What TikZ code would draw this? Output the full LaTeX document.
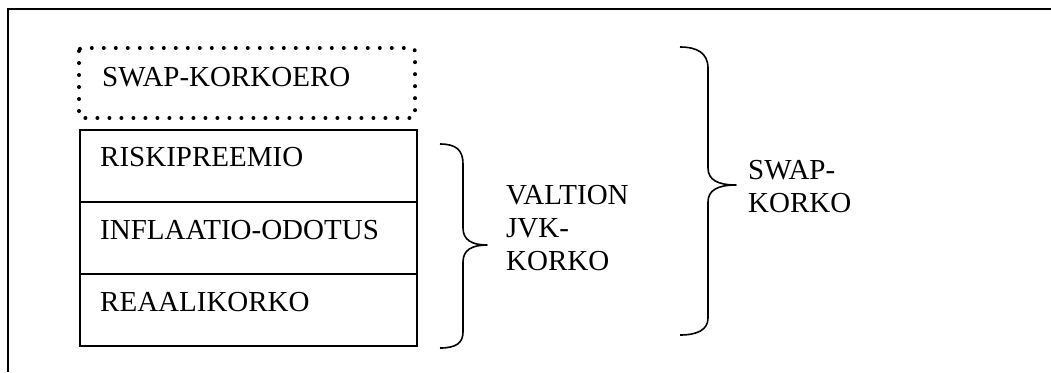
\documentclass[tikz,border=0pt]{standalone}
\usepackage{fontspec}
\setmainfont{Liberation Serif}
\begin{document}
\begin{tikzpicture}[x=1pt,y=-1pt,
  lbl/.style={inner sep=0pt,anchor=base west,font=\fontsize{29}{33}\selectfont},
  multi/.style={inner sep=0pt,anchor=west,align=left,font=\fontsize{29}{33}\selectfont},
  cell/.style={draw,line width=2pt,minimum width=337pt,minimum height=72pt,inner sep=0pt,anchor=north west},
  dotbox/.style={draw,line width=4pt,dash pattern=on 0pt off 12pt,line cap=round,rounded corners=3pt},
  brace/.style={line width=1.6pt,line join=round}]
\useasboundingbox (0,0) rectangle (1051,372);
% frame
\draw[line width=2pt] (8,372) -- (8,9) -- (1051,9);
% dotted box
\draw[dotbox] (79,48) rectangle (415,118);
\node[lbl] (swapero) at (102,86) {SWAP-KORKOERO};
% cells
\node[cell] (c1) at (79,129) {};
\node[cell] (c2) at (79,201) {};
\node[cell] (c3) at (79,273) {};
\node[lbl] (t1) at (100,166) {RISKIPREEMIO};
\node[lbl] (t2) at (100,239) {INFLAATIO-ODOTUS};
\node[lbl] (t3) at (100,311) {REAALIKORKO};
% small brace
\draw[brace] (440,144) .. controls (456,144) and (463,150) .. (463,164)
  -- (463,228) .. controls (463,240) and (472,245) .. (487,245)
  .. controls (472,245) and (463,250) .. (463,262)
  -- (463,332) .. controls (463,343) and (456,348) .. (440,348);
\node[multi] (valtion) at (506,228.5) {VALTION\\JVK-\\KORKO};
% big brace
\draw[brace] (680,47) .. controls (697,47) and (708,53) .. (708,68)
  -- (708,168) .. controls (708,180) and (718,185) .. (736,185)
  .. controls (718,185) and (708,190) .. (708,202)
  -- (708,318) .. controls (708,330) and (697,335) .. (680,335);
\node[multi] (swap) at (748,187) {SWAP-\\KORKO};
\end{tikzpicture}
\end{document}
